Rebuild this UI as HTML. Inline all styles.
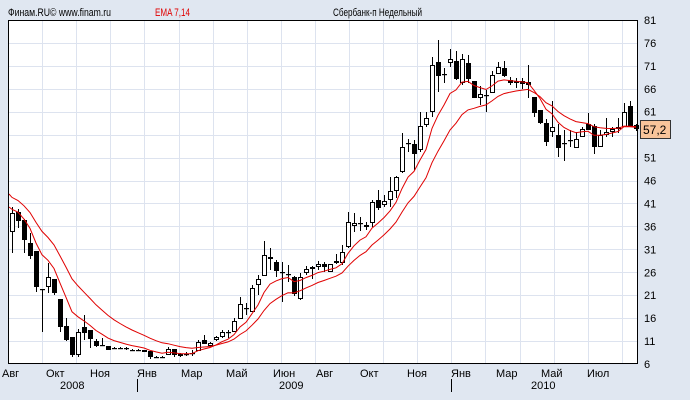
<!DOCTYPE html>
<html><head><meta charset="utf-8"><style>
body{margin:0;background:#e0e7f1;}
svg{display:block;font-family:"Liberation Sans",sans-serif;font-size:11px;}
</style></head><body>
<svg id="s" width="690" height="400" xmlns="http://www.w3.org/2000/svg">
<rect width="690" height="400" fill="#e0e7f1"/>
<rect x="8" y="20" width="630" height="344" fill="#fff"/>
<g id="grid" stroke="#dde3ef" stroke-width="1"></g>
<text x="8" y="16" fill="#000" textLength="103" lengthAdjust="spacingAndGlyphs">Финам.RU©  www.finam.ru</text>
<text x="155" y="16" fill="#e00000" textLength="35" lengthAdjust="spacingAndGlyphs">EMA 7,14</text>
<text x="333" y="16" fill="#000" textLength="89" lengthAdjust="spacingAndGlyphs">Сбербанк-п Недельный</text>
<g id="ax" fill="#000"></g>
<g id="c"></g>
<g id="e" fill="none" stroke="#e00000" stroke-width="1"></g>
<rect x="8.5" y="20.5" width="629" height="343" fill="none" stroke="#000"/>
<rect x="640.5" y="120.5" width="30" height="18" fill="#f8c49a" stroke="#333"/>
<text x="643" y="134" font-size="12">57,2</text>
</svg>
<script>
var ns="http://www.w3.org/2000/svg";
function el(p,t,a,txt){var e=document.createElementNS(ns,t);for(var k in a)e.setAttribute(k,a[k]);if(txt)e.textContent=txt;document.getElementById(p).appendChild(e);return e;}
for(var v=81;v>=6;v-=5){var y=20+(81-v)*4.5867;
 el('grid','line',{x1:8,x2:638,y1:Math.round(y)+.5,y2:Math.round(y)+.5});
 el('ax','text',{x:644,y:y+4},String(v));}
for(var k=1;k<19;k++){var x=Math.round(8+34.1*k)+.5;if(x<638)el('grid','line',{x1:x,x2:x,y1:20,y2:364});}
var m=[["Авг",2],["Окт",46],["Ноя",90],["Янв",137],["Мар",181],["Май",226],["Июн",273],["Авг",316],["Окт",360],["Ноя",407],["Янв",451],["Мар",496],["Май",541],["Июл",587]];
m.forEach(function(a){el('ax','text',{x:a[1],y:377},a[0]);});
el('ax','text',{x:60,y:389},"2008");el('ax','text',{x:279,y:389},"2009");el('ax','text',{x:531,y:389},"2010");
el('ax','rect',{x:137,y:379,width:1,height:13});el('ax','rect',{x:451,y:379,width:1,height:13});
var d=[[207,253,232,213],[209,228,212,221],[219,253,220,240],[233,259,243,256],[251,292,251,287],[289,332,289,290],[263,293,287,277],[279,295,279,293],[299,332,299,327],[318,341,326,340],[337,357,337,355],[329,357,355,332],[315,340,327,333],[330,348,330,339],[339,347,341,346],[338,346,345,345],[346,350,346,350],[347,349,348,348],[347,349,348,348],[347,350,348,349],[349,351,350,350],[349,351,350,350],[350,352,350,352],[351,359,351,357],[356,358,357,357],[356,358,357,357],[347,355,355,349],[349,357,349,355],[353,357,354,356],[352,356,354,354],[350,356,353,353],[340,351,351,342],[335,344,340,344],[342,347,346,343],[336,341,340,337],[330,338,337,332],[330,338,332,332],[318,332,332,321],[297,319,319,304],[303,315,308,308],[285,312,312,288],[275,295,285,279],[241,276,276,255],[248,270,257,259],[260,277,262,271],[262,302,272,272],[265,282,274,274],[276,296,277,294],[273,300,299,277],[266,275,273,269],[266,279,267,269],[261,270,267,264],[262,272,264,267],[264,272,272,264],[254,264,261,263],[245,265,263,252],[212,248,247,222],[213,232,226,223],[217,231,223,223],[222,230,225,227],[200,227,223,202],[190,210,200,208],[195,207,205,201],[177,207,200,191],[176,198,191,177],[133,173,172,147],[139,152,143,143],[140,170,144,154],[112,152,150,126],[112,127,125,118],[57,117,112,65],[40,92,62,76],[68,83,74,74],[49,67,63,59],[51,80,61,79],[54,85,83,59],[55,83,63,79],[81,98,81,98],[86,105,98,94],[90,112,95,95],[71,93,93,75],[62,74,74,67],[61,77,68,76],[77,85,80,83],[78,88,81,83],[78,89,81,84],[65,98,82,85],[97,117,97,113],[110,124,110,123],[119,146,123,142],[101,137,132,127],[124,157,135,148],[130,161,143,143],[130,147,140,140],[132,148,148,139],[127,137,137,129],[113,130,124,130],[124,154,126,147],[130,147,147,135],[118,137,135,132],[127,137,132,129],[118,133,129,127],[103,127,127,112],[101,127,106,127],[124,131,125,129]];
var e7=208,e14=195,p7=[],p14=[];
d.forEach(function(c,i){var x=12+6*i;
 el('c','line',{x1:x+.5,x2:x+.5,y1:c[0],y2:c[1],stroke:'#000'});
 var t=Math.min(c[2],c[3]),b=Math.max(c[2],c[3]);
 if(b-t<1.5){el('c','rect',{x:x-2,y:t,width:5,height:1.2,fill:'#000'});}
 else el('c','rect',{x:x-1.5,y:t+.5,width:4,height:b-t-1,fill:c[3]>c[2]?'#000':'#fff',stroke:'#000'});
 e7+= (c[3]-e7)*2/8; e14+=(c[3]-e14)*2/15;
 p7.push(x+','+e7.toFixed(1));p14.push(x+','+e14.toFixed(1));});
el('e','polyline',{points:'9,207 '+p7.join(' ')});
el('e','polyline',{points:'9,194 '+p14.join(' ')});
</script>
</body></html>
